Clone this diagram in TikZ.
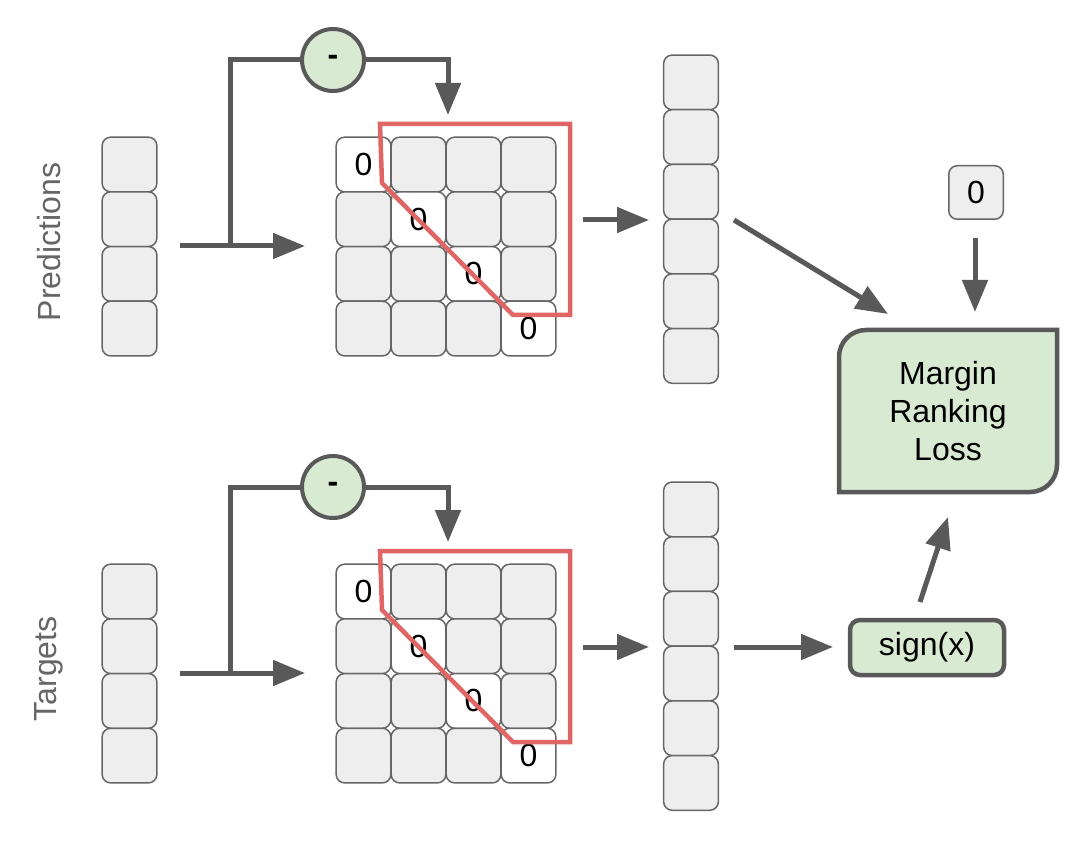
\documentclass[tikz,border=0pt]{standalone}
\usepackage{fontspec}
\setmainfont{Liberation Sans}
\usetikzlibrary{arrows.meta}
\definecolor{cellgray}{HTML}{EEEEEE}
\definecolor{edgegray}{HTML}{666666}
\definecolor{linegray}{HTML}{595959}
\definecolor{opgreen}{HTML}{D9EAD3}
\definecolor{maskred}{HTML}{E06666}
\tikzset{
  cell/.style={draw=edgegray, fill=cellgray, line width=1.5pt, rounded corners=8.5pt,
    minimum width=54.7pt, minimum height=54.7pt, inner sep=0pt, outer sep=0pt},
  zerocell/.style={cell, fill=white},
  flow/.style={draw=linegray, line width=5pt},
  flowarrow/.style={flow, -{Triangle[length=32pt,width=25pt]}},
  op/.style={circle, draw=linegray, fill=opgreen, line width=4pt, minimum size=62pt, inner sep=0pt},
  mask/.style={draw=maskred, line width=4.5pt},
  side/.style={rotate=90, text=edgegray},
  greenbox/.style={draw=linegray, fill=opgreen, line width=4.5pt},
}
\begin{document}
\begin{tikzpicture}[x=1pt, y=-1pt, font=\fontsize{32}{38}\selectfont]
\useasboundingbox (0,0) rectangle (1080,845);

% two rows: predictions on top, targets below
\foreach \s/\lab/\dy in {p/Predictions/0, t/Targets/427} {
  \node[side] (\s lab) at (49,242+\dy) {\lab};
  % input vector
  \foreach \i in {0,...,3}
    \node[cell] (\s in\i) at (129.5,164.5+54.7*\i+\dy) {};
  % pairwise differences
  \foreach \r in {0,...,3}
    \foreach \c in {0,...,3} {
      \ifnum\r=\c
        \node[zerocell] (\s m\r\c) at (363.5+55*\c,164.5+54.7*\r+\dy) {0};
      \else
        \node[cell] (\s m\r\c) at (363.5+55*\c,164.5+54.7*\r+\dy) {};
      \fi
    }
  % upper triangle, flattened
  \foreach \i in {0,...,5}
    \node[cell] (\s out\i) at (691,82.4+54.7*\i+\dy) {};
  \node[op] (\s op) at (333,60+\dy) {\textbf{-}};
  \coordinate (\s start) at (180,246+\dy);
  \coordinate (\s fork) at (230,246+\dy);
  \coordinate (\s tip) at (305,246+\dy);
  \coordinate (\s drop) at (448,115+\dy);
  \coordinate (\s mfrom) at (583,220+\dy);
  \coordinate (\s mto) at (649,220+\dy);
  \draw[flowarrow] (\s start) -- (\s tip);
  \draw[flow] (\s fork) |- (\s op);
  \draw[flowarrow] (\s op) -| (\s drop);
  \draw[flowarrow] (\s mfrom) -- (\s mto);
  \draw[mask] (380,124+\dy) -- (570,124+\dy) -- (570,315+\dy)
    -- (513,315+\dy) -- (382,183+\dy) -- cycle;
}

% loss
\draw[greenbox] (839,492) -- (839,357) .. controls (839,342) and (851,330) .. (866,330)
  -- (1057,330) -- (1057,465) .. controls (1057,480) and (1045,492) .. (1030,492) -- cycle;
\node[align=center, inner sep=0pt] (loss) at (948,411) {Margin\\Ranking\\Loss};
\node[cell, minimum width=54.5pt, minimum height=53.5pt] (zero) at (976,192.5) {0};
\node[greenbox, rounded corners=10pt, minimum width=154pt, minimum height=55pt,
  inner sep=0pt] (sign) at (927,647.5) {sign(x)};

\coordinate (pfrom) at (734,220);
\coordinate (plossin) at (888,314);
\coordinate (zfrom) at (975,238);
\coordinate (zlossin) at (975,312);
\coordinate (tfrom) at (734,647);
\coordinate (tsignin) at (833,647);
\coordinate (sfrom) at (920,602);
\coordinate (slossin) at (948,517);
\draw[flowarrow] (pfrom) -- (plossin);
\draw[flowarrow] (zfrom) -- (zlossin);
\draw[flowarrow] (tfrom) -- (tsignin);
\draw[flowarrow] (sfrom) -- (slossin);
\end{tikzpicture}
\end{document}
